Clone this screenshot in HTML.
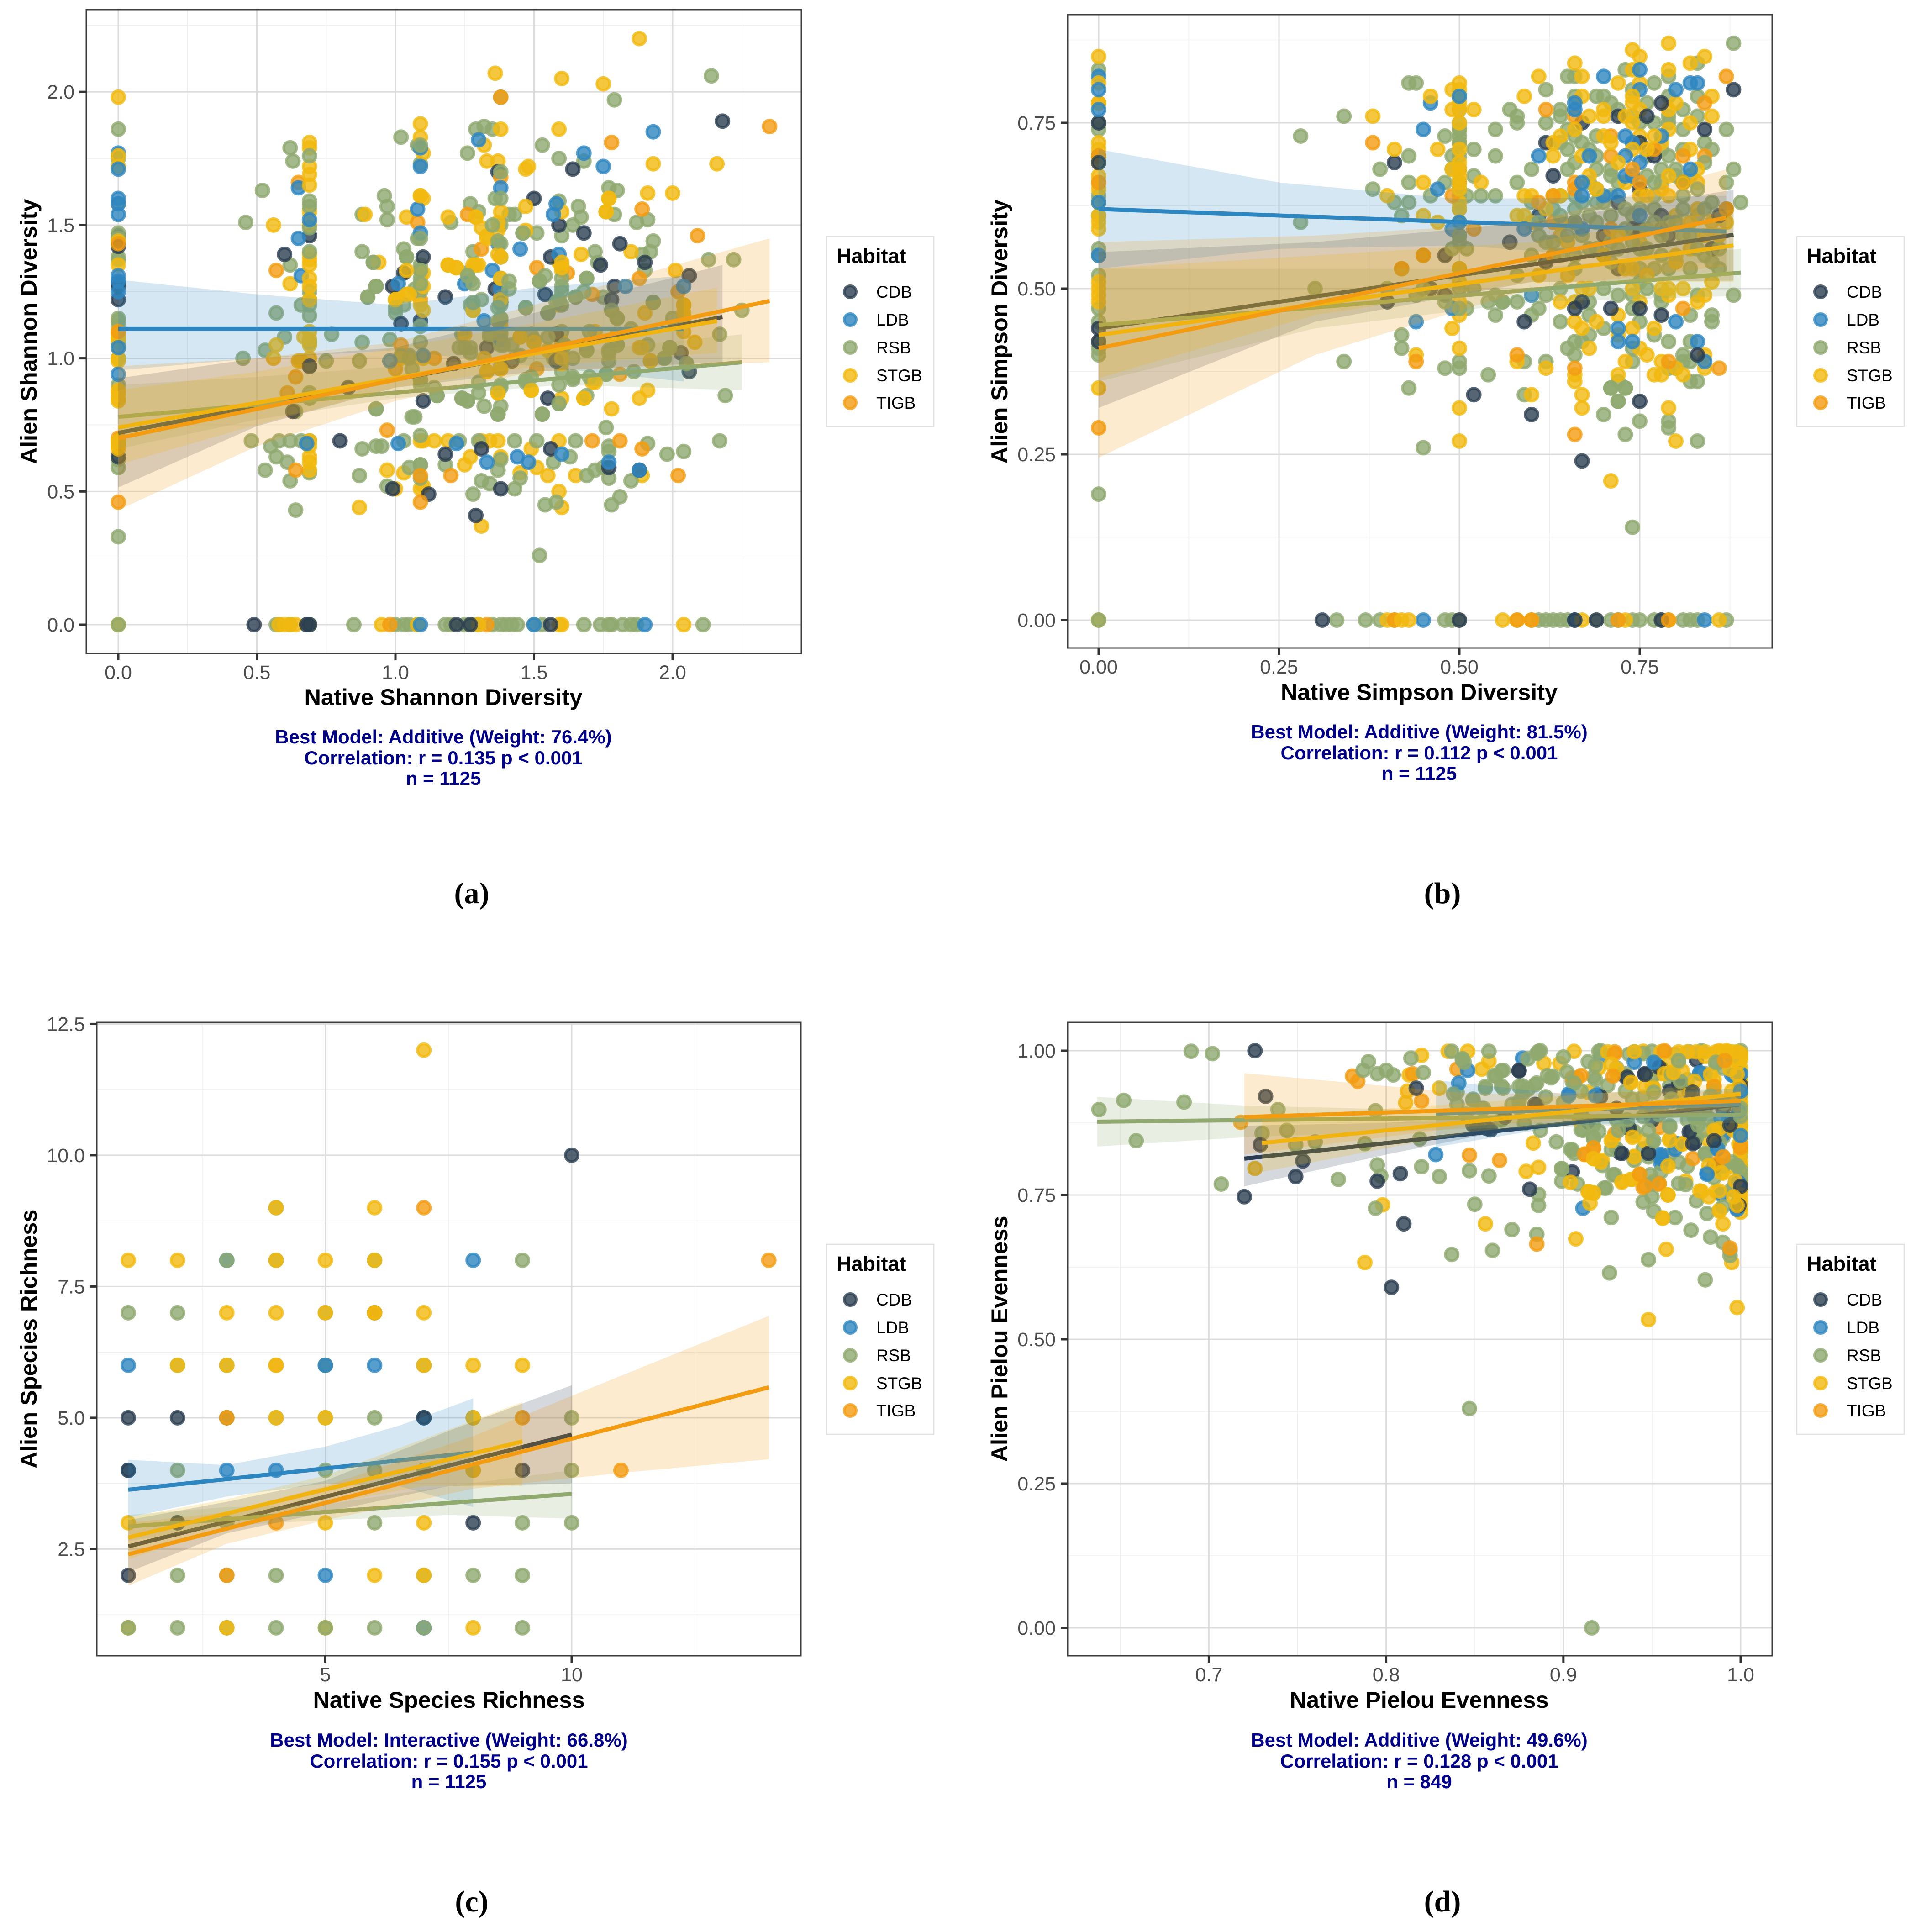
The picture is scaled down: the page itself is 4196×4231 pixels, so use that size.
<!DOCTYPE html>
<html lang="en">
<head>
<meta charset="utf-8">
<title>Native versus alien diversity by habitat</title>
<style>
html,body{margin:0;padding:0;background:#fff}
svg{display:block}
text{font-family:"Liberation Sans",Arial,sans-serif}
.axis-title{font-size:50.5px;font-weight:700;fill:#000;text-anchor:middle}
.caption{font-size:42px;font-weight:700;fill:#00008b;text-anchor:middle}
.legend-title{font-size:45px;font-weight:700;fill:#000}
.legend-label{font-size:37px;fill:#000}
.panel-letter{font-family:"Liberation Serif",serif;font-size:66px;font-weight:700;fill:#000;text-anchor:middle}
.legend-box{fill:#fff;stroke:#e0e0e0;stroke-width:2.5}
.dot{stroke-width:6;fill-opacity:.8;stroke-opacity:.8}
.cdb{fill:#2c3e50;stroke:#2c3e50}.ldb{fill:#2e86c1;stroke:#2e86c1}.rsb{fill:#8fa96f;stroke:#8fa96f}.stgb{fill:#f1b90f;stroke:#f1b90f}.tigb{fill:#f39c12;stroke:#f39c12}
</style>
</head>
<body>
<svg id="figure" xmlns="http://www.w3.org/2000/svg" width="4196" height="4231" viewBox="0 0 4196 4231">
<rect width="4196" height="4231" fill="#fff"/>

<g id="panel-a">
  <g class="plot"></g>
  <text class="axis-title" x="971" y="1544">Native Shannon Diversity</text>
  <text class="axis-title" transform="translate(80 726) rotate(-90)">Alien Shannon Diversity</text>
  <text class="caption" x="971" y="1628">Best Model: Additive (Weight: 76.4%)</text>
  <text class="caption" x="971" y="1674">Correlation: r = 0.135 p &lt; 0.001</text>
  <text class="caption" x="971" y="1719">n = 1125</text>
  <text class="panel-letter" x="1033" y="1978">(a)</text>
  <g transform="translate(0 0)">
    <rect class="legend-box" x="1810" y="518" width="235" height="416"/>
    <text class="legend-title" x="1832" y="576">Habitat</text>
    <circle class="dot cdb" cx="1862" cy="639" r="13"/><text class="legend-label" x="1919" y="652">CDB</text>
    <circle class="dot ldb" cx="1862" cy="700" r="13"/><text class="legend-label" x="1919" y="713">LDB</text>
    <circle class="dot rsb" cx="1862" cy="761" r="13"/><text class="legend-label" x="1919" y="774">RSB</text>
    <circle class="dot stgb" cx="1862" cy="822" r="13"/><text class="legend-label" x="1919" y="835">STGB</text>
    <circle class="dot tigb" cx="1862" cy="882" r="13"/><text class="legend-label" x="1919" y="895">TIGB</text>
  </g>
</g>

<g id="panel-b">
  <g class="plot"></g>
  <text class="axis-title" x="3108" y="1533">Native Simpson Diversity</text>
  <text class="axis-title" transform="translate(2206 726) rotate(-90)">Alien Simpson Diversity</text>
  <text class="caption" x="3108" y="1617">Best Model: Additive (Weight: 81.5%)</text>
  <text class="caption" x="3108" y="1663">Correlation: r = 0.112 p &lt; 0.001</text>
  <text class="caption" x="3108" y="1708">n = 1125</text>
  <text class="panel-letter" x="3159" y="1978">(b)</text>
  <g transform="translate(2125 0)">
    <rect class="legend-box" x="1810" y="518" width="235" height="416"/>
    <text class="legend-title" x="1832" y="576">Habitat</text>
    <circle class="dot cdb" cx="1862" cy="639" r="13"/><text class="legend-label" x="1919" y="652">CDB</text>
    <circle class="dot ldb" cx="1862" cy="700" r="13"/><text class="legend-label" x="1919" y="713">LDB</text>
    <circle class="dot rsb" cx="1862" cy="761" r="13"/><text class="legend-label" x="1919" y="774">RSB</text>
    <circle class="dot stgb" cx="1862" cy="822" r="13"/><text class="legend-label" x="1919" y="835">STGB</text>
    <circle class="dot tigb" cx="1862" cy="882" r="13"/><text class="legend-label" x="1919" y="895">TIGB</text>
  </g>
</g>

<g id="panel-c">
  <g class="plot"></g>
  <text class="axis-title" x="983" y="3740">Native Species Richness</text>
  <text class="axis-title" transform="translate(80 2932) rotate(-90)">Alien Species Richness</text>
  <text class="caption" x="983" y="3825">Best Model: Interactive (Weight: 66.8%)</text>
  <text class="caption" x="983" y="3871">Correlation: r = 0.155 p &lt; 0.001</text>
  <text class="caption" x="983" y="3916">n = 1125</text>
  <text class="panel-letter" x="1033" y="4186">(c)</text>
  <g transform="translate(0 2207)">
    <rect class="legend-box" x="1810" y="518" width="235" height="416"/>
    <text class="legend-title" x="1832" y="576">Habitat</text>
    <circle class="dot cdb" cx="1862" cy="639" r="13"/><text class="legend-label" x="1919" y="652">CDB</text>
    <circle class="dot ldb" cx="1862" cy="700" r="13"/><text class="legend-label" x="1919" y="713">LDB</text>
    <circle class="dot rsb" cx="1862" cy="761" r="13"/><text class="legend-label" x="1919" y="774">RSB</text>
    <circle class="dot stgb" cx="1862" cy="822" r="13"/><text class="legend-label" x="1919" y="835">STGB</text>
    <circle class="dot tigb" cx="1862" cy="882" r="13"/><text class="legend-label" x="1919" y="895">TIGB</text>
  </g>
</g>

<g id="panel-d">
  <g class="plot"></g>
  <text class="axis-title" x="3108" y="3740">Native Pielou Evenness</text>
  <text class="axis-title" transform="translate(2206 2932) rotate(-90)">Alien Pielou Evenness</text>
  <text class="caption" x="3108" y="3825">Best Model: Additive (Weight: 49.6%)</text>
  <text class="caption" x="3108" y="3871">Correlation: r = 0.128 p &lt; 0.001</text>
  <text class="caption" x="3108" y="3916">n = 849</text>
  <text class="panel-letter" x="3159" y="4186">(d)</text>
  <g transform="translate(2125 2207)">
    <rect class="legend-box" x="1810" y="518" width="235" height="416"/>
    <text class="legend-title" x="1832" y="576">Habitat</text>
    <circle class="dot cdb" cx="1862" cy="639" r="13"/><text class="legend-label" x="1919" y="652">CDB</text>
    <circle class="dot ldb" cx="1862" cy="700" r="13"/><text class="legend-label" x="1919" y="713">LDB</text>
    <circle class="dot rsb" cx="1862" cy="761" r="13"/><text class="legend-label" x="1919" y="774">RSB</text>
    <circle class="dot stgb" cx="1862" cy="822" r="13"/><text class="legend-label" x="1919" y="835">STGB</text>
    <circle class="dot tigb" cx="1862" cy="882" r="13"/><text class="legend-label" x="1919" y="895">TIGB</text>
  </g>
</g>
</svg>

<script>
/* ---------- Panel (a): Shannon diversity, points as [native, alien] ---------- */
const aTicksX=["0.0","0.5","1.0","1.5","2.0"];
const aTicksY=["0.0","0.5","1.0","1.5","2.0"];
const aMinorX=[0.25,0.75,1.25,1.75,2.25];
const aMinorY=[0.25,0.75,1.25,1.75,2.25];
const aCDB=[[0,1.46],[0,1.42],[0,1.28],[0,1.27],[0,1.22],[0,.63],[.49,0],[1.22,0],[1.27,0],[1.56,0],[.69,0],[.68,0],[2.18,1.89],[1.64,1.71],[1.37,1.7],[1.5,1.6],[1.59,1.5],[1.68,1.47],[.69,1.46],[1.81,1.43],[.6,1.39],[1.1,1.38],[1.56,1.38],[1.9,1.36],[1.74,1.35],[1.03,1.32],[1.09,1.14],[2.06,1.31],[1.54,1.24],[1.18,1.23],[.99,1.27],[1.36,1.26],[1.79,1.27],[1.78,1.22],[1.38,1.21],[1.02,1.13],[1.33,1.04],[1.21,.98],[2.03,1.02],[2.06,.95],[1.55,.85],[1.1,.84],[.83,.89],[.63,.8],[1.42,.99],[1.58,.99],[1.58,1.09],[.8,.69],[1.18,.64],[1.31,.66],[1.56,.66],[1.77,.59],[1.88,.58],[1.12,.49],[1.38,.51],[1.29,.41],[.99,.51],[.69,.97]];
const aLDB=[[0,1.77],[0,1.71],[0,1.6],[0,1.58],[0,1.54],[0,1.31],[0,1.29],[0,1.25],[0,1.04],[0,.94],[1.09,0],[1.5,0],[1.9,0],[1.93,1.85],[1.3,1.82],[1.68,1.77],[1.75,1.72],[1.09,1.79],[1.09,1.72],[.65,1.64],[1.38,1.64],[1.58,1.58],[1.08,1.56],[1.57,1.54],[.65,1.45],[1.09,1.47],[1.45,1.41],[1.37,1.43],[1.35,1.33],[1.59,1.39],[.66,1.31],[1.01,1.28],[1.25,1.28],[1.38,1.26],[1.83,1.27],[2.04,1.27],[1.32,1.14],[1.38,1.07],[1.1,1.01],[.69,.97],[.98,.99],[1.01,.68],[.68,.68],[1.22,.68],[1.6,.64],[1.44,.63],[1.48,.61],[1.33,.61],[1.77,.61],[1.88,.58],[.69,1.52]];
const aRSB=[[0,1.86],[0,1.75],[0,1.58],[0,1.47],[0,1.45],[0,1.38],[0,1.37],[0,1.15],[0,1.14],[0,1.12],[0,1.06],[0,.62],[0,.59],[0,.33],[0,.69],[0,1],[0,.9],[0,0],[.57,0],[.58,0],[.62,0],[.68,0],[.69,0],[.85,0],[1,0],[1.03,0],[1.05,0],[1.08,0],[1.18,0],[1.2,0],[1.25,0],[1.28,0],[1.3,0],[1.35,0],[1.38,0],[1.4,0],[1.42,0],[1.44,0],[1.5,0],[1.53,0],[1.68,0],[1.74,0],[1.77,0],[1.78,0],[1.82,0],[1.85,0],[1.87,0],[2.11,0],[2.14,2.06],[1.79,1.97],[1.38,1.98],[1.29,1.86],[1.32,1.87],[1.35,1.86],[1.53,1.8],[1.08,1.8],[1.02,1.83],[1.59,1.75],[1.68,1.74],[1.26,1.77],[.62,1.79],[.63,1.74],[1.09,1.73],[.52,1.63],[1.77,1.64],[1.8,1.63],[.96,1.61],[.97,1.57],[1.36,1.6],[1.27,1.58],[1.66,1.57],[1.59,1.59],[.46,1.51],[.88,1.54],[.97,1.52],[1.2,1.51],[1.43,1.54],[1.41,1.54],[1.3,1.55],[1.67,1.53],[1.79,1.54],[1.64,1.5],[1.87,1.51],[1.91,1.52],[1.46,1.47],[1.51,1.47],[1.6,1.46],[1.08,1.45],[1.93,1.44],[.88,1.4],[1.03,1.41],[1.28,1.4],[1.72,1.4],[1.92,1.4],[1.89,1.39],[.92,1.36],[1.04,1.38],[2.13,1.37],[2.22,1.37],[1.73,1.36],[.62,1.35],[1.9,1.33],[1.26,1.32],[1.09,1.35],[.93,1.27],[.9,1.23],[1.07,1.26],[1.27,1.29],[1.52,1.29],[1.69,1.3],[1.65,1.23],[1.93,1.21],[2.25,1.18],[2.17,1.09],[.66,1.2],[.57,1.17],[.69,1.2],[1.47,1.19],[1.55,1.17],[1.75,1.23],[1.78,1.18],[1.8,1.15],[1.38,1.14],[1.27,1.2],[1,1.17],[.45,1],[.77,1.09],[.88,1.06],[.75,.99],[.87,.99],[.98,1.07],[1.05,1.01],[1.24,1.09],[1.27,1.04],[1.34,1.08],[1.45,1.01],[1.5,1.07],[1.57,1],[1.6,1.04],[1.69,1.03],[1.77,1.02],[1.8,1.05],[1.97,1],[1.99,1.04],[2.05,.98],[.53,1.03],[.6,1.08],[.69,1.06],[2.19,.86],[2.17,.69],[1.98,.64],[2.04,.65],[1.91,.68],[1.76,.74],[1.07,.78],[.93,.81],[1.15,.86],[1.26,.84],[1.24,.85],[1.38,.82],[1.37,.79],[1.59,.83],[1.53,.79],[1.47,.91],[1.64,.92],[1.76,.94],[.69,.87],[.64,.8],[1.86,.95],[.48,.69],[.55,.67],[.58,.69],[.62,.69],[.66,.69],[.69,.69],[.88,.66],[.93,.67],[.95,.67],[1.03,.69],[1.09,.71],[1.09,.6],[1.05,.59],[1.18,.6],[1.23,.69],[1.3,.69],[1.43,.69],[1.51,.69],[1.57,.61],[1.63,.63],[1.65,.69],[1.77,.67],[1.77,.65],[1.72,.58],[1.69,.56],[1.75,.59],[1.85,.54],[1.77,.55],[1.81,.48],[1.78,.45],[1.58,.46],[1.54,.45],[1.52,.26],[.64,.43],[.62,.54],[.53,.58],[.57,.63],[.69,.57],[.61,.61],[.87,.56],[.97,.52],[1.28,.49],[1.31,.54],[1.34,.53],[1.43,.51],[1.45,.55],[1.37,.58],[.69,1.76],[.69,1.59],[.69,1.57],[.69,1.49],[.69,1.4],[.69,1.25],[.69,1.22],[.69,1.16],[.69,.97],[.69,.85],[1.09,1.8],[1.09,1.45],[1.09,1.33],[1.09,1.3],[1.09,1.27],[1.09,1.25],[1.09,1.12],[1.09,1.06],[1.09,.92],[1.09,.9],[1.09,.6],[1.09,.55],[1.38,1.7],[1.38,1.6],[1.38,1.5],[1.38,1.43],[1.38,1.38],[1.38,1.3],[1.38,1.2],[1.38,1.15],[1.38,1.1],[1.38,1.05],[1.38,.97],[1.38,.9],[1.38,.62],[1.6,1.3],[1.6,1.25],[1.6,1.2],[1.6,1.1],[1.6,1.05],[1.6,1],[1.6,.95],[1.04,1.38],[.92,1.36],[.93,1.27],[.9,1.23],[1,1.19],[1.03,1.2],[1.09,1.33],[1.09,1.28],[1.02,1.01],[1.05,1],[1.06,.96],[1.09,.92],[1.15,.86],[1.14,.89],[1.24,.85],[1.26,.84],[1.32,.82],[1.37,.79],[1.06,.78],[.93,.81],[1.38,.89],[1.37,.88],[1.3,.87],[1.3,.91],[1.47,.92],[1.49,.93],[1.64,.93],[1.7,.93],[1.76,.94],[1.59,.9],[1.69,.86],[1.59,.83],[1.53,.79],[1.25,1.04],[1.27,1.02],[1.23,1.04],[1.34,1.09],[1.38,1.09],[1.39,1.05],[1.42,1.05],[1.49,1.09],[1.55,1.08],[1.61,1.05],[1.64,1],[1.69,1.03],[1.7,1.1],[1.77,1.03],[1.77,.99],[1.8,1.05],[1.85,1.11],[1.91,1.05],[1.99,1.04],[1.97,1],[2.05,.98],[1.93,1.21],[1.78,1.18],[1.8,1.15],[2,1.15],[1.55,1.17],[1.47,1.19],[1.65,1.23],[1.68,1.25],[1.69,1.3],[1.54,1.31],[1.52,1.29],[1.6,1.27],[1.59,1.22],[1.58,1.21],[1.28,1.21],[1.31,1.22],[1.37,1.19],[1.38,1.15],[1.37,1.14],[1.41,1.29],[1.41,1.26],[1.26,1.31],[1.28,1.28],[1.35,1.5],[1.37,1.44],[1.46,1.47]];
const aSTGB=[[0,0],[0,1.98],[0,1.76],[0,1.72],[0,1.44],[0,1.35],[0,1.1],[0,1.09],[0,1.08],[0,1.07],[0,1.04],[0,1],[0,.99],[0,.88],[0,.87],[0,.85],[0,.84],[0,.69],[0,.68],[0,.67],[0,.66],[.58,0],[.6,0],[.62,0],[.64,0],[.95,0],[1.08,0],[1.3,0],[1.59,0],[1.6,0],[2.04,0],[1.88,2.2],[1.36,2.07],[1.6,2.05],[1.75,2.03],[1.59,1.86],[1.38,1.86],[1.09,1.88],[1.09,1.83],[1.1,1.77],[1.32,1.8],[1.93,1.73],[2.16,1.73],[1.47,1.71],[1.48,1.72],[1.33,1.74],[1.37,1.74],[1.91,1.62],[2,1.62],[1.77,1.6],[1.76,1.55],[1.09,1.61],[1.1,1.6],[.89,1.54],[1.04,1.53],[1.19,1.53],[.56,1.5],[1.47,1.57],[1.6,1.55],[1.29,1.53],[1.38,1.55],[1.47,1.48],[1.33,1.46],[1.67,1.39],[1.85,1.4],[1.59,1.36],[2.01,1.33],[1.19,1.35],[1.22,1.34],[1.28,1.35],[1.3,1.35],[.94,1.36],[1.01,1.23],[1.6,1.35],[1.6,1.33],[2.04,1.2],[2.04,1.15],[1.28,1.18],[1.59,1.2],[.62,1.28],[.87,.44],[1.31,.37],[1.6,.44],[1.59,.5],[.97,.58],[1.03,.57],[1.45,.57],[1.51,.59],[1.55,.56],[1.65,.56],[1.89,.56],[1.09,.51],[1.1,.52],[1.25,.6],[1.09,.69],[1.1,.69],[1.14,.69],[1.19,.69],[1.31,.69],[1.34,.69],[1.37,.69],[1.59,.69],[1.49,.66],[1.38,.63],[1.27,.63],[1,.51],[1.68,.85],[1.88,.85],[1.91,.88],[1.6,.85],[1.49,.88],[1.37,.87],[1.92,.99],[.56,1],[.66,.99],[1.71,.91],[1.78,.81],[.69,1.81],[.69,1.79],[.69,1.72],[.69,1.69],[.69,1.65],[.69,1.55],[.69,1.5],[.69,1.39],[.69,1.37],[.69,1.35],[.69,1.3],[.69,1.1],[.69,1.07],[.69,1.05],[.69,1],[.69,.69],[.69,.67],[.69,.63],[.69,.61],[.69,.58],[1,1.22],[1.02,1],[1.05,1.24],[1.1,1.32],[1.1,1.27],[1.1,1.18],[1.1,1],[1.25,1.09],[1.32,1],[1.38,1.38],[1.38,1.3],[1.38,1.22],[1.38,1.12],[1.38,.96],[1.45,1.08],[1.5,1.06],[1.55,1.03],[1.6,1.02],[1.6,.98],[1.6,1.06],[1.72,1.1],[1.8,1.09],[1.88,1.04],[1.9,1.17],[2.04,1.1],[2.08,1.06],[.65,.99],[.67,1.08],[.69,1.22],[.69,1.27],[.57,1.05],[1.37,1.39],[1.37,1.51],[1.37,1.48],[1.29,1.53],[1.31,1.49],[1.33,1.45],[1.29,1.35],[1.19,1.35],[1.22,1.34],[1.6,1.34],[1.6,1.36],[1.76,1.55],[1.77,1.6],[1.09,1.61],[1.04,1.33],[1.04,1.24],[1,1.22],[1.09,1.2],[1.28,1.18],[1.6,1],[1.5,1.06],[1.45,1.08],[1.38,.96],[1.33,.95],[1.37,.87],[1.49,.88],[1.68,.85],[1.72,.91],[1.89,1.04],[1.92,.99],[2.04,1.2],[2.04,1.17]];
const aTIGB=[[0,.46],[0,1.43],[0,.7],[0,1.1],[1.33,0],[.98,0],[.65,1.66],[2.35,1.87],[1.38,1.98],[1.78,1.81],[1.38,1.68],[1.89,1.56],[1.08,1.51],[2.09,1.46],[1.26,1.54],[1.31,1.41],[1.51,1.34],[.57,1.33],[1.09,1.22],[1.88,1.3],[1.71,1.24],[2.02,1.25],[1.62,1.32],[1.38,1.23],[1.02,1.05],[1,.96],[1.14,1],[.64,.93],[1.33,.95],[1.51,.96],[1.81,.94],[1.92,.99],[.97,.73],[1.71,.69],[1.81,.69],[1.89,.66],[.64,.58],[1.09,.56],[1.2,.56],[2.02,.56],[1.09,.46],[.61,.87]];
const aFitCDB=[[0,.72],[2.18,1.155]];
const aFitLDB=[[0,1.11],[2.04,1.11]];
const aFitRSB=[[0,.78],[2.25,.985]];
const aFitSTGB=[[0,.74],[2.16,1.14]];
const aFitTIGB=[[0,.7],[2.35,1.215]];
const aBandCDB=[[0,.515,.925],[.5,.745,1],[1,.89,1.04],[1.5,.95,1.17],[2.18,.985,1.35]];
const aBandLDB=[[0,.955,1.295],[.5,1,1.24],[1,1.03,1.2],[1.5,.97,1.265],[2.04,.913,1.31]];
const aBandRSB=[[0,.66,.9],[.5,.77,.93],[1,.85,.97],[1.6,.9,1.02],[2.25,.88,1.09]];
const aBandSTGB=[[0,.6,.88],[.5,.75,.95],[1,.89,1.04],[1.5,.97,1.13],[2.16,1.02,1.265]];
const aBandTIGB=[[0,.43,.97],[.5,.67,1],[1,.84,1.06],[1.5,.95,1.2],[2.35,.985,1.45]];

/* ---------- Panel (b): Simpson diversity ---------- */
const bTicksX=["0.00","0.25","0.50","0.75"];
const bTicksY=["0.00","0.25","0.50","0.75"];
const bMinorX=[.125,.375,.625,.875];
const bMinorY=[.125,.375,.625,.875];
const bCDB=[[0,.75],[0,.7],[0,.69],[0,.44],[0,.42],[.31,0],[.5,0],[.66,0],[.69,0],[.78,0],[.88,.8],[.41,.69],[.63,.67],[.62,.72],[.84,.74],[.67,.75],[.72,.76],[.76,.76],[.78,.78],[.75,.72],[.77,.7],[.81,.66],[.75,.65],[.57,.57],[.48,.55],[.61,.61],[.66,.6],[.7,.58],[.72,.63],[.74,.59],[.75,.59],[.78,.59],[.78,.61],[.79,.58],[.86,.61],[.85,.56],[.72,.53],[.62,.54],[.67,.48],[.66,.47],[.71,.47],[.75,.47],[.78,.46],[.59,.45],[.52,.34],[.6,.31],[.75,.33],[.83,.4],[.4,.48],[.46,.5],[.48,.49],[.67,.24]];
const bLDB=[[0,.82],[0,.8],[0,.77],[0,.63],[0,.55],[.45,0],[.66,0],[.84,0],[.46,.78],[.45,.74],[.7,.82],[.75,.83],[.75,.8],[.8,.8],[.82,.81],[.83,.81],[.66,.78],[.66,.77],[.74,.72],[.73,.73],[.78,.73],[.75,.69],[.61,.7],[.73,.7],[.82,.68],[.74,.67],[.73,.67],[.47,.65],[.67,.66],[.72,.64],[.67,.64],[.7,.64],[.5,.58],[.49,.59],[.59,.59],[.67,.59],[.6,.49],[.49,.47],[.44,.45],[.72,.44],[.72,.42],[.74,.42],[.8,.45],[.83,.42],[.84,.39],[.75,.61],[.68,.7],[.5,.79],[.5,.6]];
const bRSB=[[0,.83],[0,.75],[0,.74],[0,.64],[0,.61],[0,.56],[0,.55],[0,.52],[0,.47],[0,.45],[0,.42],[0,.41],[0,.4],[0,.19],[0,0],[.33,0],[.37,0],[.39,0],[.48,0],[.49,0],[.5,0],[.61,0],[.62,0],[.63,0],[.64,0],[.65,0],[.69,0],[.71,0],[.72,0],[.74,0],[.75,0],[.77,0],[.78,0],[.81,0],[.82,0],[.83,0],[.87,0],[.88,.87],[.43,.81],[.44,.81],[.65,.82],[.66,.82],[.62,.8],[.73,.83],[.77,.81],[.79,.82],[.83,.84],[.74,.8],[.69,.79],[.7,.79],[.66,.79],[.79,.79],[.76,.78],[.83,.79],[.57,.77],[.58,.76],[.58,.75],[.64,.77],[.64,.76],[.62,.75],[.72,.77],[.71,.78],[.81,.77],[.83,.76],[.5,.79],[.5,.77],[.5,.75],[.55,.74],[.48,.73],[.77,.75],[.75,.75],[.74,.76],[.79,.76],[.79,.75],[.81,.74],[.87,.74],[.65,.74],[.66,.73],[.69,.73],[.84,.72],[.85,.71],[.52,.71],[.43,.7],[.49,.7],[.55,.7],[.49,.68],[.5,.7],[.64,.72],[.67,.72],[.65,.71],[.68,.71],[.69,.7],[.78,.71],[.81,.71],[.76,.7],[.79,.7],[.39,.68],[.6,.68],[.66,.69],[.65,.68],[.69,.68],[.71,.68],[.78,.68],[.8,.68],[.84,.69],[.88,.68],[.5,.68],[.58,.66],[.43,.66],[.52,.67],[.48,.66],[.71,.67],[.72,.66],[.76,.67],[.78,.66],[.8,.67],[.82,.67],[.87,.66],[.68,.66],[.69,.65],[.66,.64],[.64,.64],[.46,.64],[.5,.64],[.51,.64],[.53,.64],[.55,.64],[.38,.65],[.6,.63],[.41,.63],[.43,.63],[.42,.61],[.7,.63],[.71,.64],[.74,.61],[.77,.64],[.81,.64],[.83,.65],[.89,.63],[.83,.61],[.77,.62],[.75,.62],[.63,.62],[.67,.63],[.68,.61],[.69,.63],[.71,.61],[.5,.62],[.61,.58],[.67,.58],[.49,.56],[.51,.56],[.6,.55],[.66,.55],[.71,.57],[.75,.56],[.85,.56],[.85,.54],[.78,.55],[.8,.54],[.5,.53],[.66,.53],[.75,.53],[.77,.53],[.79,.53],[.55,.49],[.56,.48],[.54,.48],[.58,.48],[.62,.49],[.64,.5],[.7,.5],[.72,.49],[.74,.49],[.75,.51],[.76,.5],[.78,.49],[.88,.49],[.83,.49],[.78,.48],[.68,.48],[.51,.47],[.61,.47],[.55,.46],[.6,.46],[.42,.43],[.42,.41],[.64,.45],[.68,.46],[.66,.42],[.67,.42],[.68,.43],[.7,.44],[.74,.47],[.75,.45],[.77,.43],[.79,.42],[.82,.46],[.85,.46],[.85,.45],[.82,.42],[.81,.4],[.65,.41],[.66,.4],[.74,.41],[.74,.39],[.59,.39],[.62,.39],[.5,.39],[.5,.38],[.48,.38],[.54,.37],[.43,.35],[.59,.34],[.79,.38],[.8,.38],[.81,.39],[.82,.39],[.82,.36],[.83,.36],[.72,.36],[.71,.35],[.73,.35],[.72,.33],[.7,.31],[.75,.3],[.79,.3],[.34,.39],[.28,.73],[.34,.76],[.28,.6],[.3,.5],[.45,.26],[.73,.28],[.79,.29],[.83,.27],[.74,.14],[.72,.33],[.71,.35],[.73,.35],[.5,.74],[.5,.73],[.5,.72],[.5,.66],[.5,.65],[.5,.6],[.5,.58],[.5,.57],[.5,.5],[.5,.47],[.61,.6],[.62,.57],[.63,.57],[.64,.55],[.65,.58],[.66,.6],[.68,.56],[.69,.56],[.7,.55],[.71,.54],[.72,.56],[.73,.59],[.74,.57],[.76,.56],[.76,.59],[.77,.6],[.78,.58],[.79,.6],[.8,.6],[.81,.58],[.82,.58],[.82,.53],[.83,.56],[.84,.55],[.84,.62],[.86,.56],[.86,.53],[.85,.63],[.81,.62],[.77,.66],[.73,.62],[.69,.6],[.66,.62],[.64,.61],[.56,.48],[.58,.52],[.52,.5],[.48,.48],[.45,.5],[.44,.49],[.4,.5]];
const bSTGB=[[0,0],[0,.85],[0,.81],[0,.78],[0,.72],[0,.71],[0,.7],[0,.69],[0,.67],[0,.66],[0,.65],[0,.63],[0,.61],[0,.6],[0,.59],[0,.51],[0,.5],[0,.49],[0,.48],[0,.35],[.4,0],[.41,0],[.42,0],[.43,0],[.56,0],[.58,0],[.6,0],[.67,0],[.73,0],[.79,0],[.86,0],[.79,.87],[.74,.86],[.75,.85],[.84,.85],[.82,.84],[.66,.84],[.61,.82],[.67,.82],[.79,.83],[.72,.81],[.74,.83],[.75,.81],[.5,.81],[.49,.8],[.5,.8],[.46,.79],[.59,.79],[.67,.79],[.85,.79],[.8,.78],[.74,.79],[.74,.78],[.52,.77],[.49,.77],[.38,.76],[.75,.77],[.85,.76],[.82,.75],[.7,.77],[.7,.76],[.68,.76],[.79,.77],[.74,.75],[.64,.73],[.63,.72],[.41,.71],[.47,.71],[.5,.72],[.5,.74],[.79,.74],[.75,.73],[.82,.71],[.66,.74],[.7,.73],[.63,.7],[.67,.7],[.74,.71],[.78,.72],[.45,.66],[.53,.66],[.79,.67],[.83,.68],[.68,.67],[.83,.66],[.73,.66],[.49,.68],[.5,.68],[.59,.64],[.6,.64],[.64,.64],[.63,.64],[.78,.65],[.75,.64],[.79,.64],[.5,.63],[.83,.62],[.45,.61],[.47,.6],[.58,.61],[.59,.61],[.6,.6],[.4,.64],[.62,.62],[.8,.61],[.87,.62],[.87,.6],[.85,.6],[.65,.57],[.64,.58],[.75,.57],[.82,.56],[.45,.55],[.42,.53],[.63,.55],[.74,.53],[.8,.54],[.61,.52],[.65,.52],[.85,.51],[.79,.5],[.74,.5],[.81,.5],[.67,.5],[.68,.5],[.84,.49],[.64,.48],[.79,.49],[.75,.48],[.83,.48],[.66,.48],[.5,.53],[.5,.51],[.5,.48],[.72,.46],[.74,.44],[.49,.44],[.5,.46],[.67,.44],[.66,.45],[.77,.44],[.69,.45],[.72,.43],[.5,.41],[.44,.4],[.68,.41],[.75,.41],[.76,.4],[.73,.39],[.58,.39],[.78,.39],[.8,.38],[.62,.38],[.84,.4],[.84,.38],[.77,.37],[.78,.37],[.81,.37],[.66,.37],[.66,.36],[.72,.37],[.6,.34],[.67,.34],[.67,.32],[.5,.32],[.79,.32],[.5,.27],[.8,.27],[.71,.21],[.5,.78],[.5,.77],[.5,.75],[.5,.71],[.5,.69],[.5,.67],[.5,.66],[.5,.65],[.5,.62],[.5,.6],[.64,.6],[.7,.55],[.72,.58],[.73,.53],[.76,.52],[.78,.5],[.82,.6],[.8,.55],[.84,.58],[.86,.58],[.76,.64],[.81,.66],[.69,.65],[.72,.69],[.77,.73],[.73,.76],[.71,.72],[.76,.71]];
const bTIGB=[[0,.78],[0,.7],[0,.66],[0,.29],[.41,0],[.58,0],[.6,0],[.72,0],[.79,0],[.87,.82],[.38,.72],[.62,.77],[.66,.76],[.84,.7],[.84,.78],[.71,.73],[.77,.71],[.81,.7],[.71,.7],[.5,.66],[.49,.64],[.66,.66],[.66,.65],[.61,.63],[.63,.64],[.75,.66],[.74,.68],[.52,.59],[.45,.55],[.42,.53],[.63,.6],[.71,.59],[.63,.55],[.44,.39],[.58,.4],[.66,.38],[.81,.47],[.79,.39],[.86,.38],[.87,.62],[.66,.28]];
const bFitCDB=[[0,.44],[.88,.581]];
const bFitLDB=[[0,.62],[.87,.586]];
const bFitRSB=[[0,.445],[.89,.524]];
const bFitSTGB=[[0,.43],[.88,.565]];
const bFitTIGB=[[0,.41],[.87,.607]];
const bBandCDB=[[0,.32,.555],[.3,.45,.57],[.6,.51,.6],[.88,.512,.649]];
const bBandLDB=[[0,.53,.71],[.25,.56,.66],[.5,.565,.635],[.87,.535,.64]];
const bBandRSB=[[0,.36,.53],[.3,.44,.53],[.6,.48,.53],[.89,.489,.56]];
const bBandSTGB=[[0,.365,.53],[.3,.46,.55],[.6,.51,.57],[.88,.51,.62]];
const bBandTIGB=[[0,.245,.57],[.3,.4,.58],[.6,.5,.6],[.87,.534,.68]];

/* ---------- Panel (c): species richness ---------- */
const cTicksX=["5","10"];
const cTicksY=["2.5","5.0","7.5","10.0","12.5"];
const cMinorX=[2.5,7.5,12.5];
const cMinorY=[1.25,3.75,6.25,8.75,11.25];
const cCDB=[[10,10],[6,7],[5,6],[3,5],[2,5],[7,5],[1,5],[1,4],[9,4],[2,3],[8,3],[1,2]];
const cLDB=[[3,8],[8,8],[1,6],[6,6],[7,5],[1,4],[3,4],[4,4],[5,6],[5,2],[7,1]];
const cRSB=[[4,9],[4,8],[6,8],[9,8],[1,7],[2,7],[3,8],[5,7],[6,7],[2,6],[3,6],[5,6],[7,6],[3,5],[4,5],[5,5],[6,5],[8,5],[10,5],[2,4],[5,4],[6,4],[7,4],[8,4],[10,4],[2,3],[3,3],[6,3],[9,3],[10,3],[2,2],[3,2],[4,2],[7,2],[8,2],[9,2],[1,1],[2,1],[3,1],[4,1],[5,1],[6,1],[7,1],[9,1]];
const cSTGB=[[1,1],[5,1],[7,12],[4,9],[6,9],[1,8],[2,8],[4,8],[5,8],[6,8],[3,7],[4,7],[5,7],[6,7],[7,7],[2,6],[3,6],[4,6],[7,6],[8,6],[9,6],[4,5],[5,5],[8,5],[8,4],[1,3],[5,3],[7,3],[6,2],[7,2],[3,1],[8,1]];
const cTIGB=[[7,9],[14,8],[6,7],[4,6],[3,5],[9,5],[11,4],[4,3],[3,2]];
const cFitCDB=[[1,2.55],[10,4.68]];
const cFitLDB=[[1,3.63],[8,4.34]];
const cFitRSB=[[1,2.93],[10,3.55]];
const cFitSTGB=[[1,2.72],[9,4.55]];
const cFitTIGB=[[1,2.4],[14,5.58]];
const cBandCDB=[[1,2.06,3.05],[3,2.8,3.4],[5,3.2,3.8],[7.5,3.7,4.75],[10,3.75,5.62]];
const cBandLDB=[[1,3.1,4.2],[3,3.5,4.1],[5,3.75,4.45],[6.5,3.7,4.85],[8,3.3,5.37]];
const cBandRSB=[[1,2.65,3.15],[3,2.95,3.3],[5,3.05,3.35],[7.5,3.15,3.7],[10,3.08,4]];
const cBandSTGB=[[1,2.3,3.1],[3,2.95,3.45],[5,3.35,3.9],[7,3.7,4.6],[9,3.7,5.3]];
const cBandTIGB=[[1,1.8,3],[3,2.6,3.2],[5,3.05,3.7],[8,3.65,4.65],[11,3.95,5.8],[14,4.21,6.94]];

/* ---------- Panel (d): Pielou evenness ---------- */
const dTicksX=["0.7","0.8","0.9","1.0"];
const dTicksY=["0.00","0.25","0.50","0.75","1.00"];
const dMinorX=[.65,.75,.85,.95];
const dMinorY=[.125,.375,.625,.875];
const dCDB=[[.726,1],[.72,.747],[.732,.921],[.729,.837],[.753,.809],[.749,.782],[.795,.774],[.808,.787],[.81,.7],[.803,.59],[.817,.935],[.875,.966],[.881,.76],[.905,.79],[.932,.823],[.936,.867],[.935,.955],[.946,.96],[.955,.97],[.975,.984],[.966,.944],[.971,.928],[.972,.86],[.974,.841],[.948,.824],[1,.767],[.998,.732],[.859,.863],[.885,.906],[.914,.877],[.921,.92],[.995,.88],[.851,.869],[.867,.885],[.99,.9],[.96,.93],[.985,.8],[1,.94],[.93,.9],[.95,.88],[.954,.971],[.946,.959],[.936,.954],[.875,.965],[.965,.944],[.973,.928],[.937,.866],[.971,.859],[.973,.839],[.933,.822],[.948,.822],[.994,.871],[.985,.844],[1,.765],[.999,.732],[.884,.907],[.857,.865],[.849,.871]];
const dLDB=[[.828,.82],[.911,.727],[.997,.772],[.998,.727],[.955,.817],[.977,.96],[.978,.96],[.995,.958],[.877,.987],[.921,.989],[.903,.925],[.841,.944],[.846,.966],[.952,.978],[.919,.925],[.981,.788],[.989,.751],[.986,.831],[.998,.901],[1,.925],[.964,.839],[.993,.88],[1,.799],[.955,.805],[.99,.855],[.998,.73],[.998,.735],[.94,.98],[.95,.9],[1,.96],[.977,.962],[.996,.957],[.955,.82],[.955,.813],[.963,.829],[.951,.98],[.987,.83],[.989,.883],[.999,.895],[.999,.771],[.998,.725],[.981,.786],[.918,.922],[.903,.922],[1,.93],[1,.853]];
const dRSB=[[.638,.898],[.652,.914],[.686,.911],[.659,.844],[.69,.999],[.702,.995],[.707,.769],[.73,.857],[.739,.898],[.744,.862],[.749,.837],[.76,.842],[.773,.777],[.788,.839],[.794,.896],[.795,.802],[.797,.783],[.794,.727],[.787,.966],[.79,.981],[.795,.96],[.8,.966],[.804,.958],[.814,.987],[.821,.962],[.819,.847],[.82,.799],[.83,.782],[.837,.647],[.85,.734],[.847,.38],[.847,.792],[.858,.783],[.86,.654],[.871,.69],[.885,.682],[.886,.751],[.886,.732],[.916,0],[.926,.615],[.837,.999],[.858,.999],[.843,.984],[.84,.928],[.849,.914],[.856,.935],[.861,.957],[.866,.966],[.865,.939],[.877,.939],[.88,.933],[.885,.944],[.886,.999],[.9,.989],[.891,.957],[.893,.953],[.914,.981],[.92,.999],[.917,.955],[.905,.947],[.896,.842],[.899,.796],[.899,.774],[.908,.769],[.905,.828],[.91,.863],[.917,.847],[.929,.785],[.924,.762],[.927,.711],[.945,.738],[.951,.722],[.948,.638],[.963,.711],[.972,.689],[.98,.603],[.981,.718],[.983,.677],[.99,.668],[.994,.654],[.994,.645],[.921,1],[.937,.994],[.94,.998],[.945,.995],[.95,.999],[.963,.994],[.971,.998],[.978,1],[1,1],[.986,.977],[.965,.98],[.93,.97],[.925,.94],[.935,.93],[.95,.955],[.96,.94],[.97,.95],[.98,.96],[.99,.97],[.93,.88],[.94,.86],[.95,.84],[.96,.82],[.97,.8],[.98,.82],[.99,.85],[1,.87],[.99,.8],[.985,.78],[.995,.76],[1,.82],[.955,.79],[.965,.77],[.94,.81],[.93,.83],[.92,.86],[.91,.89],[.9,.91],[.89,.92],[.875,.9],[.865,.88],[.855,.9],[.845,.89],[.975,.74],[.99,.73],[1,.78],[.96,.87],[.97,.88],[.98,.9],[.99,.91],[1,.93],[1,.96],[.995,.99],[.985,.93],[.955,.9],[.945,.92],[.935,.96],[.91,.93],[.95,.77],[.945,.83],[.985,.87],[.975,.85],[.965,.807],[.949,.785],[.928,.785],[.995,.807],[.998,.801],[.98,.822],[.988,.841],[.948,.816],[.922,.801],[.927,.829],[.917,.85],[.911,.862],[.906,.822],[.904,.829],[.899,.795],[.923,.762],[.95,.747],[.969,.768],[.996,.759],[1,.777],[1,.792],[.979,.862],[.974,.883],[.977,.886],[.982,.883],[.961,.959],[.966,.947],[.965,.983],[.986,.98],[.918,.95],[.918,.974],[.906,.944],[.902,.963],[.894,.956],[.885,.995],[.887,1],[.88,.986],[.884,.941],[.875,.938],[.877,.925],[.865,.965],[.862,.956],[.866,.935],[.856,.938],[.843,.986],[.844,.98],[.838,.925],[.849,.916],[.84,.907],[.854,.9],[.871,.907],[.875,.912],[.887,.862],[.878,.874],[.939,.916],[.951,.928],[.961,.916],[.976,.871],[1,.886],[1,.9],[.983,.922],[.991,.91],[.968,.898],[.954,.889],[.945,.886],[.936,.88],[.948,.862],[.931,.862],[.917,.871],[.951,.844],[.96,.868],[.973,.892]];
const dSTGB=[[.788,.633],[.798,.733],[.726,.796],[.812,.93],[.811,.91],[.813,.958],[.82,.992],[.835,.999],[.846,.999],[.83,.935],[.856,.7],[.883,.84],[.886,.798],[.879,.791],[.907,.674],[.948,.534],[.998,.555],[.958,.656],[.995,.633],[.906,.999],[.858,.982],[.854,.968],[.889,.978],[.898,.978],[.938,.946],[.93,.96],[.945,.999],[.986,.998],[.993,.998],[.997,.976],[1,.955],[1,.912],[1,.88],[1,.837],[1,.788],[.999,.75],[.988,.724],[.978,.756],[.986,.756],[.959,.75],[.956,.71],[.94,.817],[.959,.804],[.917,.753],[.914,.755],[.904,.772],[.933,.774],[.938,.777],[.951,.774],[.969,.774],[.917,.813],[.922,.81],[.909,.88],[.914,.928],[.928,.847],[.94,.853],[.96,.847],[.967,.839],[.976,.885],[.981,.847],[.988,.858],[.99,.788],[.997,.863],[.975,.998],[.965,.93],[.955,.96],[.95,.94],[.92,.97],[.985,.95],[.995,.93],[1,.99],[1,.97],[.99,.99],[.98,.99],[.995,.91],[.995,.8],[1,.72],[.99,.7],[.96,.98],[.97,.9],[1,.995],[1,.985],[1,.945],[1,.935],[1,.925],[1,.905],[1,.895],[1,.87],[1,.86],[1,.85],[1,.825],[1,.81],[1,.8],[1,.775],[1,.76],[1,.74],[1,.73],[.925,.998],[.94,.998],[.955,.998],[.965,.998],[.97,.998],[.98,.998],[.99,.998],[.995,.998],[.998,.998],[.927,.977],[.93,.968],[.946,.938],[.951,.935],[.957,.96],[.96,.962],[.983,.959],[.988,1],[.992,1],[.994,.968],[.998,.959],[.999,.98],[.999,.938],[.974,.947],[.967,.965],[.962,.962],[.938,.945],[.939,.777],[.94,.816],[.959,.8],[.967,.838],[.96,.845],[.946,.844],[.927,.844],[.939,.85],[.985,.862],[.988,.865],[.998,.871],[.999,.838],[.996,.862],[.982,.801],[.989,.789],[.997,.774],[1,.75],[.988,.757],[.982,.747],[.977,.757],[.988,.722],[.959,.75],[.933,.772],[.921,.807],[.917,.813],[.914,.756],[.917,.754],[.915,.736],[.956,.71],[.996,.747],[.998,.732]];
const dTIGB=[[.781,.956],[.784,.947],[.815,.96],[.82,.913],[.718,.876],[.84,.968],[.847,.819],[.864,.81],[.885,.665],[.929,.998],[.957,.998],[.905,.953],[.91,.957],[.985,.939],[.954,.867],[.912,.82],[.917,.831],[.943,.786],[.945,.763],[.954,.77],[.973,.813],[.99,.817],[.994,.658],[1,.837],[.929,.856],[.986,.804],[.929,.995],[.957,1],[.908,.953],[.928,.956],[.985,.938],[.991,.983],[.917,.832],[.912,.821],[.943,.786],[.946,.765],[.954,.769],[.99,.816],[1,.832]];
const dFitCDB=[[.72,.813],[1,.907]];
const dFitLDB=[[.828,.891],[1,.907]];
const dFitRSB=[[.637,.877],[1,.889]];
const dFitSTGB=[[.73,.84],[1,.925]];
const dFitTIGB=[[.72,.885],[1,.913]];
const dBandCDB=[[.72,.765,.87],[.8,.82,.875],[.88,.87,.89],[1,.89,.925]];
const dBandLDB=[[.828,.833,.949],[.9,.87,.925],[1,.88,.935]];
const dBandRSB=[[.637,.834,.92],[.72,.85,.905],[.85,.865,.895],[1,.875,.905]];
const dBandSTGB=[[.73,.79,.885],[.85,.86,.91],[1,.905,.945]];
const dBandTIGB=[[.72,.82,.961],[.85,.87,.925],[1,.895,.93]];

/* ---------- Axis functions ---------- */
const xA=v=>259+607*v, yA=v=>1368-583.4*v;
const xB=v=>2406+1580*v, yB=v=>1358-1452*v;
const xC=v=>712.5+107.9*(v-5), yC=v=>3392.4+115*(2.5-v);
const xD=v=>3812-3882*(1-v), yD=v=>3565-1264*v;

const colors={cdb:'#2c3e50',ldb:'#2e86c1',rsb:'#8fa96f',stgb:'#f1b90f',tigb:'#f39c12'};
const order=['cdb','ldb','rsb','stgb','tigb'];
const NS='http://www.w3.org/2000/svg';

const panels=[
 {id:'panel-a',key:'shannon',box:[189,21,1755,1431],x:xA,y:yA,ticksX:aTicksX,ticksY:aTicksY,minorX:aMinorX,minorY:aMinorY,
  points:{cdb:aCDB,ldb:aLDB,rsb:aRSB,stgb:aSTGB,tigb:aTIGB},
  fits:{cdb:aFitCDB,ldb:aFitLDB,rsb:aFitRSB,stgb:aFitSTGB,tigb:aFitTIGB},
  bands:{cdb:aBandCDB,ldb:aBandLDB,rsb:aBandRSB,stgb:aBandSTGB,tigb:aBandTIGB}},
 {id:'panel-b',key:'simpson',box:[2338,32,3881,1419],x:xB,y:yB,ticksX:bTicksX,ticksY:bTicksY,minorX:bMinorX,minorY:bMinorY,
  points:{cdb:bCDB,ldb:bLDB,rsb:bRSB,stgb:bSTGB,tigb:bTIGB},
  fits:{cdb:bFitCDB,ldb:bFitLDB,rsb:bFitRSB,stgb:bFitSTGB,tigb:bFitTIGB},
  bands:{cdb:bBandCDB,ldb:bBandLDB,rsb:bBandRSB,stgb:bBandSTGB,tigb:bBandTIGB}},
 {id:'panel-c',key:'richness',box:[212,2239,1754,3626],x:xC,y:yC,ticksX:cTicksX,ticksY:cTicksY,minorX:cMinorX,minorY:cMinorY,
  points:{cdb:cCDB,ldb:cLDB,rsb:cRSB,stgb:cSTGB,tigb:cTIGB},
  fits:{cdb:cFitCDB,ldb:cFitLDB,rsb:cFitRSB,stgb:cFitSTGB,tigb:cFitTIGB},
  bands:{cdb:cBandCDB,ldb:cBandLDB,rsb:cBandRSB,stgb:cBandSTGB,tigb:cBandTIGB}},
 {id:'panel-d',key:'pielou',box:[2338,2239,3881,3626],x:xD,y:yD,ticksX:dTicksX,ticksY:dTicksY,minorX:dMinorX,minorY:dMinorY,
  points:{cdb:dCDB,ldb:dLDB,rsb:dRSB,stgb:dSTGB,tigb:dTIGB},
  fits:{cdb:dFitCDB,ldb:dFitLDB,rsb:dFitRSB,stgb:dFitSTGB,tigb:dFitTIGB},
  bands:{cdb:dBandCDB,ldb:dBandLDB,rsb:dBandRSB,stgb:dBandSTGB,tigb:dBandTIGB}}
];

function mk(tag,attrs,parent){
  const el=document.createElementNS(NS,tag);
  for(const k in attrs){el.setAttribute(k,attrs[k]);}
  parent.appendChild(el);
  return el;
}

panels.forEach(p=>{
  const g=document.querySelector('#'+p.id+' .plot');
  const [L,T,R,B]=p.box;

  const bg=mk('rect',{x:L,y:T,width:R-L,height:B-T,fill:'#fff'},g);
  
  

  p.minorX.forEach(v=>{
    const el=mk('line',{x1:p.x(v),x2:p.x(v),y1:T,y2:B,stroke:'#efefef','stroke-width':1.6},g);
    
    
  });
  p.minorY.forEach(v=>{
    const el=mk('line',{x1:L,x2:R,y1:p.y(v),y2:p.y(v),stroke:'#efefef','stroke-width':1.6},g);
    
    
  });
  p.ticksX.forEach(t=>{
    const v=parseFloat(t);
    const el=mk('line',{x1:p.x(v),x2:p.x(v),y1:T,y2:B,stroke:'#dcdcdc','stroke-width':3},g);
    
    
  });
  p.ticksY.forEach(t=>{
    const v=parseFloat(t);
    const el=mk('line',{x1:L,x2:R,y1:p.y(v),y2:p.y(v),stroke:'#dcdcdc','stroke-width':3},g);
    
    
  });

  /* points are merged proportionally across habitats so they interleave as plotted */
  const merged=[];
  order.forEach(s=>{
    const arr=p.points[s];
    arr.forEach((d,i)=>merged.push({s:s,d:d,k:(i+.5)/arr.length}));
  });
  merged.sort((a,b)=>a.k-b.k);
  merged.forEach(m=>{
    const c=mk('circle',{cx:p.x(m.d[0]),cy:p.y(m.d[1]),r:14,'class':'dot '+m.s},g);
    
    
  });

  order.forEach(s=>{
    const band=p.bands[s];
    const upper=band.map(d=>p.x(d[0])+','+p.y(d[2]));
    const lower=band.slice().reverse().map(d=>p.x(d[0])+','+p.y(d[1]));
    const poly=mk('polygon',{points:upper.concat(lower).join(' '),fill:colors[s],'fill-opacity':.2},g);
    
    
    const fit=p.fits[s];
    const ln=mk('line',{x1:p.x(fit[0][0]),y1:p.y(fit[0][1]),x2:p.x(fit[1][0]),y2:p.y(fit[1][1]),stroke:colors[s],'stroke-width':9},g);
    
    
  });

  const frame=mk('rect',{x:L,y:T,width:R-L,height:B-T,fill:'none',stroke:'#3c3c3c','stroke-width':3},g);
  
  

  p.ticksX.forEach(t=>{
    const v=parseFloat(t);
    const mark=mk('line',{x1:p.x(v),x2:p.x(v),y1:B,y2:B+15,stroke:'#333','stroke-width':5},g);
    
    
    const lab=mk('text',{x:p.x(v),y:B+56,'text-anchor':'middle','font-size':43,fill:'#4d4d4d'},g);
    
    
    lab.textContent=t;
  });
  p.ticksY.forEach(t=>{
    const v=parseFloat(t);
    const mark=mk('line',{x1:L-15,x2:L,y1:p.y(v),y2:p.y(v),stroke:'#333','stroke-width':5},g);
    
    
    const lab=mk('text',{x:L-26,y:p.y(v)+15,'text-anchor':'end','font-size':43,fill:'#4d4d4d'},g);
    
    
    lab.textContent=t;
  });
});
</script>
</body>
</html>
